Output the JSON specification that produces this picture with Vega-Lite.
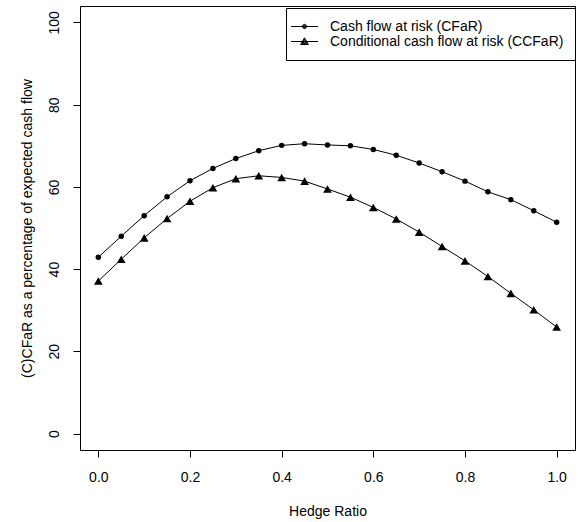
{
  "$schema": "https://vega.github.io/schema/vega-lite/v6.json",
  "width": 495,
  "height": 444,
  "autosize": "none",
  "padding": {"left": 80, "top": 6, "right": 3, "bottom": 72},
  "background": "white",
  "config": {
    "font": "Liberation Sans",
    "view": {"stroke": "black", "strokeWidth": 1},
    "axis": {
      "domain": false,
      "grid": false,
      "ticks": true,
      "tickColor": "black",
      "tickSize": 7,
      "tickWidth": 1,
      "labelFont": "Liberation Sans",
      "labelFontSize": 14,
      "labelColor": "black",
      "titleFont": "Liberation Sans",
      "titleFontSize": 14,
      "titleFontWeight": "normal",
      "titleColor": "black"
    }
  },
  "data": {
    "values": [
      {"h": 0.00, "series": "Cash flow at risk (CFaR)", "v": 42.9},
      {"h": 0.05, "series": "Cash flow at risk (CFaR)", "v": 48.0},
      {"h": 0.10, "series": "Cash flow at risk (CFaR)", "v": 53.0},
      {"h": 0.15, "series": "Cash flow at risk (CFaR)", "v": 57.6},
      {"h": 0.20, "series": "Cash flow at risk (CFaR)", "v": 61.5},
      {"h": 0.25, "series": "Cash flow at risk (CFaR)", "v": 64.5},
      {"h": 0.30, "series": "Cash flow at risk (CFaR)", "v": 66.9},
      {"h": 0.35, "series": "Cash flow at risk (CFaR)", "v": 68.8},
      {"h": 0.40, "series": "Cash flow at risk (CFaR)", "v": 70.1},
      {"h": 0.45, "series": "Cash flow at risk (CFaR)", "v": 70.5},
      {"h": 0.50, "series": "Cash flow at risk (CFaR)", "v": 70.2},
      {"h": 0.55, "series": "Cash flow at risk (CFaR)", "v": 70.0},
      {"h": 0.60, "series": "Cash flow at risk (CFaR)", "v": 69.1},
      {"h": 0.65, "series": "Cash flow at risk (CFaR)", "v": 67.7},
      {"h": 0.70, "series": "Cash flow at risk (CFaR)", "v": 65.8},
      {"h": 0.75, "series": "Cash flow at risk (CFaR)", "v": 63.7},
      {"h": 0.80, "series": "Cash flow at risk (CFaR)", "v": 61.4},
      {"h": 0.85, "series": "Cash flow at risk (CFaR)", "v": 58.8},
      {"h": 0.90, "series": "Cash flow at risk (CFaR)", "v": 56.9},
      {"h": 0.95, "series": "Cash flow at risk (CFaR)", "v": 54.2},
      {"h": 1.00, "series": "Cash flow at risk (CFaR)", "v": 51.4},
      {"h": 0.00, "series": "Conditional cash flow at risk (CCFaR)", "v": 37.1},
      {"h": 0.05, "series": "Conditional cash flow at risk (CCFaR)", "v": 42.4},
      {"h": 0.10, "series": "Conditional cash flow at risk (CCFaR)", "v": 47.6},
      {"h": 0.15, "series": "Conditional cash flow at risk (CCFaR)", "v": 52.3},
      {"h": 0.20, "series": "Conditional cash flow at risk (CCFaR)", "v": 56.5},
      {"h": 0.25, "series": "Conditional cash flow at risk (CCFaR)", "v": 59.8},
      {"h": 0.30, "series": "Conditional cash flow at risk (CCFaR)", "v": 62.0},
      {"h": 0.35, "series": "Conditional cash flow at risk (CCFaR)", "v": 62.7},
      {"h": 0.40, "series": "Conditional cash flow at risk (CCFaR)", "v": 62.3},
      {"h": 0.45, "series": "Conditional cash flow at risk (CCFaR)", "v": 61.4},
      {"h": 0.50, "series": "Conditional cash flow at risk (CCFaR)", "v": 59.5},
      {"h": 0.55, "series": "Conditional cash flow at risk (CCFaR)", "v": 57.5},
      {"h": 0.60, "series": "Conditional cash flow at risk (CCFaR)", "v": 55.0},
      {"h": 0.65, "series": "Conditional cash flow at risk (CCFaR)", "v": 52.2},
      {"h": 0.70, "series": "Conditional cash flow at risk (CCFaR)", "v": 49.0},
      {"h": 0.75, "series": "Conditional cash flow at risk (CCFaR)", "v": 45.5},
      {"h": 0.80, "series": "Conditional cash flow at risk (CCFaR)", "v": 42.0},
      {"h": 0.85, "series": "Conditional cash flow at risk (CCFaR)", "v": 38.2},
      {"h": 0.90, "series": "Conditional cash flow at risk (CCFaR)", "v": 34.1},
      {"h": 0.95, "series": "Conditional cash flow at risk (CCFaR)", "v": 30.1},
      {"h": 1.00, "series": "Conditional cash flow at risk (CCFaR)", "v": 25.9}
    ]
  },
  "encoding": {
    "x": {
      "field": "h",
      "type": "quantitative",
      "scale": {"domain": [-0.04, 1.04], "nice": false, "zero": false},
      "axis": {"values": [0, 0.2, 0.4, 0.6, 0.8, 1.0], "format": ".1f", "labelPadding": 13, "title": "Hedge Ratio", "titlePadding": 20, "labelFlush": false}
    },
    "y": {
      "field": "v",
      "type": "quantitative",
      "scale": {"domain": [-4, 104], "nice": false, "zero": false},
      "axis": {"values": [0, 20, 40, 60, 80, 100], "labelAngle": 270, "labelPadding": 12, "title": "(C)CFaR as a percentage of expected cash flow", "titlePadding": 13, "labelFlush": false}
    }
  },
  "layer": [
    {
      "mark": {"type": "line", "color": "black", "strokeWidth": 1},
      "encoding": {"detail": {"field": "series", "type": "nominal"}}
    },
    {
      "transform": [{"filter": "datum.series === 'Cash flow at risk (CFaR)'"}],
      "mark": {"type": "point", "shape": "circle", "filled": true, "color": "black", "opacity": 1, "size": 30},
      "encoding": {}
    },
    {
      "transform": [{"filter": "datum.series === 'Conditional cash flow at risk (CCFaR)'"}],
      "mark": {"type": "point", "shape": "triangle-up", "filled": true, "color": "black", "opacity": 1, "size": 76},
      "encoding": {}
    },
    {
      "mark": {"type": "point", "filled": false, "color": "black", "strokeWidth": 1, "opacity": 1, "size": 0},
      "encoding": {
        "shape": {
          "field": "series",
          "type": "nominal",
          "scale": {
            "domain": ["Cash flow at risk (CFaR)", "Conditional cash flow at risk (CCFaR)"],
            "range": [
              "M-1.93,0H1.93M0.307,0A0.307,0.307,0,1,1,-0.307,0A0.307,0.307,0,1,1,0.307,0ZM0.2,0A0.2,0.2,0,1,1,-0.2,0A0.2,0.2,0,1,1,0.2,0ZM0.1,0A0.1,0.1,0,1,1,-0.1,0A0.1,0.1,0,1,1,0.1,0Z",
              "M-1.93,0H1.93M0,-0.54L0.56,0.43L-0.56,0.43ZM0,-0.32L0.37,0.32L-0.37,0.32ZM0,-0.107L0.185,0.213L-0.185,0.213Z"
            ]
          },
          "legend": {
            "title": null,
            "orient": "none",
            "legendX": 206,
            "legendY": 2,
            "padding": 11,
            "strokeColor": "black",
            "fillColor": "white",
            "symbolSize": 196,
            "symbolFillColor": "black",
            "symbolStrokeColor": "black",
            "symbolStrokeWidth": 1,
            "symbolOpacity": 1,
            "labelFontSize": 14,
            "labelFont": "Liberation Sans",
            "labelColor": "black",
            "labelOffset": 18,
            "rowPadding": 0,
            "labelLimit": 400
          }
        }
      }
    }
  ]
}
